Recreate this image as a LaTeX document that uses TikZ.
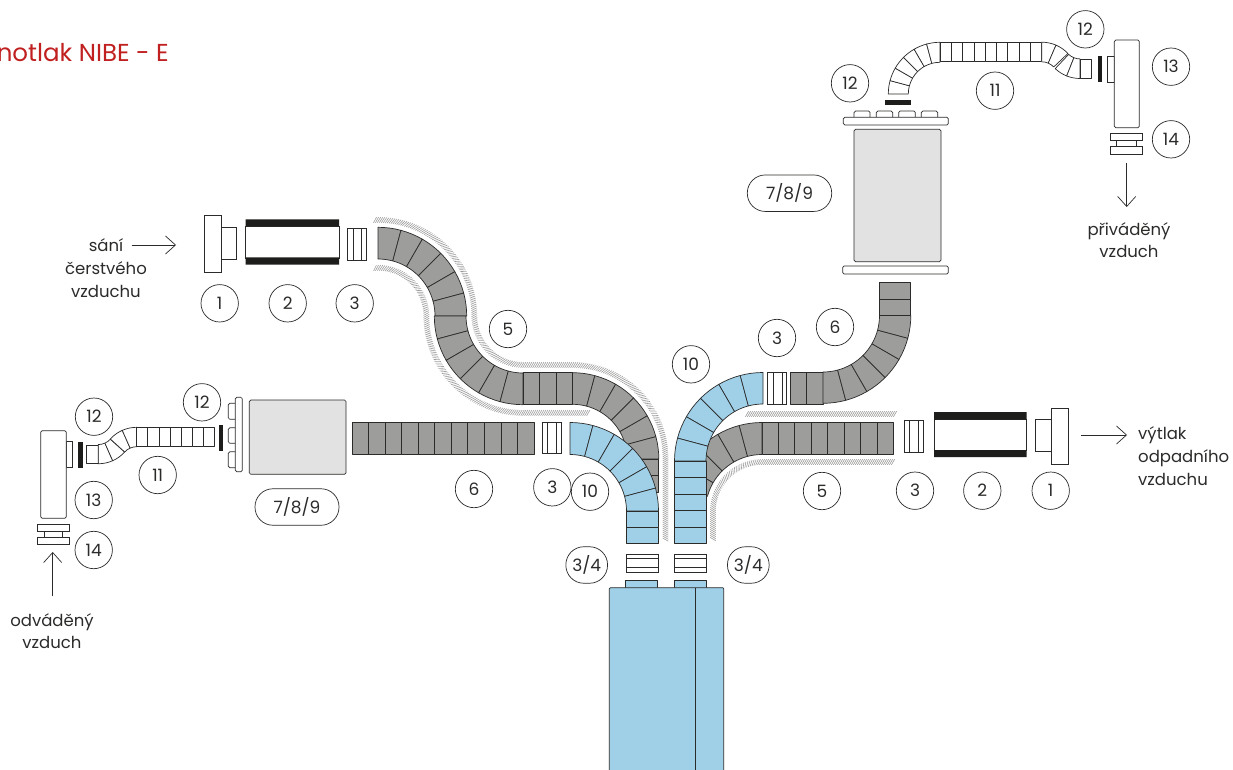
\documentclass[tikz,border=0pt]{standalone}
\usepackage{fontspec}
\setmainfont{Poppins}
\usetikzlibrary{arrows.meta,decorations.markings}
\definecolor{ink}{HTML}{2B2B2A}
\definecolor{dgray}{HTML}{9D9D9C}
\definecolor{dblue}{HTML}{9FD0E8}
\definecolor{lgray}{HTML}{E2E2E2}
\definecolor{nred}{HTML}{C0201F}
\definecolor{barblack}{HTML}{1D1D1B}
\tikzset{
  seggray/.style={draw=ink,line width=.7pt,fill=dgray,line join=round},
  segblue/.style={draw=ink,line width=.7pt,fill=dblue,line join=round},
  segflex/.style={draw=ink,line width=.7pt,fill=white,line join=round},
  part/.style={draw=ink,line width=.7pt,fill=white},
  softpart/.style={draw=ink,line width=.7pt,fill=white,rounded corners=1.5pt},
  graybox/.style={draw=ink,line width=.7pt,fill=lgray,rounded corners=1.5pt},
  blackbar/.style={fill=barblack},
  lab/.style={circle,draw=ink,line width=.7pt,fill=white,minimum size=37.4pt,inner sep=0pt,font=\fontsize{17}{20}\selectfont,text=ink},
  stad/.style={rectangle,rounded corners=18pt,draw=ink,line width=.7pt,fill=white,minimum height=36.5pt,inner sep=0pt,font=\fontsize{17}{20}\selectfont,text=ink},
  txt/.style={align=center,inner sep=0pt,text=ink,font=\fontsize{16.5}{22.7}\selectfont},
  arr/.style={draw=ink,line width=.7pt,-{Straight Barb[length=10pt,width=18pt,line width=.7pt]}},
  hatch/.style={decoration={markings,mark=between positions 0 and 1 step 2pt with {\draw[dgray,line width=.6pt] (-1.6pt,-2.8pt)--(1.6pt,2.8pt);}},decorate}
}
% annular duct bend: cx cy rin rout a0 a1 n style
\newcommand\ductarc[8]{%
  \foreach \ii in {1,...,#7}{%
    \pgfmathsetmacro\aa{#5+(#6-#5)*(\ii-1)/#7}%
    \pgfmathsetmacro\ab{#5+(#6-#5)*\ii/#7}%
    \draw[#8] ([shift={(#1,#2)}]\aa:#3) -- ([shift={(#1,#2)}]\aa:#4)
      arc[start angle=\aa,end angle=\ab,radius=#4]
      -- ([shift={(#1,#2)}]\ab:#3)
      arc[start angle=\ab,end angle=\aa,radius=#3] -- cycle;
  }}
% straight duct along x: x0 x1 ytop ybot n style
\newcommand\ductH[6]{%
  \foreach \ii in {1,...,#5}{%
    \pgfmathsetmacro\aa{#1+(#2-#1)*(\ii-1)/#5}%
    \pgfmathsetmacro\ab{#1+(#2-#1)*\ii/#5}%
    \draw[#6] (\aa,#3) rectangle (\ab,#4);
  }}
% straight duct along y: xl xr y0 y1 n style
\newcommand\ductV[6]{%
  \foreach \ii in {1,...,#5}{%
    \pgfmathsetmacro\aa{#3+(#4-#3)*(\ii-1)/#5}%
    \pgfmathsetmacro\ab{#3+(#4-#3)*\ii/#5}%
    \draw[#6] (#1,\aa) rectangle (#2,\ab);
  }}
% coupling (3): x0 x1 x2 x3 ytop ybot
\newcommand\couplingV[6]{%
  \draw[part] (#1,#5) rectangle (#4,#6);
  \draw[ink,line width=.7pt] (#2,#5)--(#2,#6) (#3,#5)--(#3,#6);}
\newcommand\couplingH[6]{%
  \draw[part] (#1,#5) rectangle (#2,#6);
  \draw[ink,line width=.7pt] (#1,#3)--(#2,#3) (#1,#4)--(#2,#4);}
\begin{document}
\begin{tikzpicture}[x=1pt,y=1pt]
\useasboundingbox (0,-770) rectangle (1233,0);
\fill[white] (0,-770) rectangle (1233,0);

% title (runs off the left edge)
\begin{scope}
\clip (0,-770) rectangle (1233,0);
\node[anchor=base east,inner sep=0pt,text=nred,font=\fontsize{24.5}{28}\selectfont] (title) at (169,-62) {notlak NIBE - E};
\end{scope}

% hatching around the duct 5 runs
\path[hatch] (375,-220) arc[start angle=92,end angle=0,radius=96]
  arc[start angle=180,end angle=270,radius=49] -- (572.5,-365)
  arc[start angle=90,end angle=0,radius=93] -- (665.5,-541);
\path[hatch] (375,-268) arc[start angle=94,end angle=0,radius=48]
  arc[start angle=180,end angle=270,radius=97] -- (590,-413);
\path[hatch] (747,-414) -- (895,-414);
\path[hatch] (893,-462) -- (762,-462) arc[start angle=90,end angle=180,radius=49] -- (713,-541);

% left-hand upper duct 5
\ductarc{378}{-316}{57}{88.7}{90}{0}{6}{seggray}
\ductarc{523}{-316}{57}{88.7}{180}{270}{6}{seggray}
\ductH{523}{572.5}{-372.7}{-404.3}{3}{seggray}
\ductarc{572.5}{-459}{54.7}{86.3}{90}{0}{6}{seggray}
\ductV{628.2}{658.8}{-459}{-492}{2}{seggray}
% right-hand duct 5
\ductH{762}{893.3}{-422.5}{-454}{8}{seggray}
\ductarc{762}{-511}{56.5}{88.5}{90}{165}{5}{seggray}
% left duct 6
\ductH{352}{534}{-422}{-454}{11}{seggray}
% right duct 6
\ductH{790.3}{823}{-372.3}{-404}{2}{seggray}
\ductarc{823}{-315.5}{56.5}{87.8}{270}{360}{6}{seggray}
\ductV{879.5}{910.8}{-315.5}{-282.3}{2}{seggray}
% blue bends
\ductarc{570}{-511}{56.5}{88.5}{90}{0}{6}{segblue}
\ductV{626.5}{658.5}{-511}{-543.7}{2}{segblue}
\ductarc{763}{-461}{57}{88.5}{90}{180}{6}{segblue}
\ductV{674.5}{706}{-461}{-543.7}{5}{segblue}

% couplings 3
\couplingV{347.3}{353}{361.7}{366.7}{-228}{-260.3}
\couplingV{542.3}{547.3}{556.7}{561.7}{-422}{-453.3}
\couplingV{767.7}{773}{782}{786.7}{-372.7}{-404.3}
\couplingV{904.3}{909}{918.3}{923.3}{-420.3}{-452.3}
% couplings 3/4
\couplingH{626.7}{658.7}{-558.3}{-567.7}{-554}{-572.3}
\couplingH{674.7}{706.7}{-558.3}{-567.7}{-554}{-572.3}

% unit at the bottom
\draw[segblue] (625.3,-580.3) rectangle (657.3,-588);
\draw[segblue] (674.7,-580.3) rectangle (706.7,-588);
\draw[segblue,rounded corners=1pt] (609.3,-775) -- (609.3,-587.7) -- (723.7,-587.7) -- (723.7,-775);
\draw[ink,line width=.7pt] (695,-587.7) -- (695,-775);

% silencers 2
\draw[part] (245.7,-226) rectangle (339,-258);
\fill[blackbar] (245.7,-219.3) rectangle (339,-226.3) (245.7,-257.3) rectangle (339,-264.7);
\draw[part] (934,-419.5) rectangle (1026.7,-450);
\fill[blackbar] (934,-412) rectangle (1026.7,-419.7) (934,-450) rectangle (1026.7,-457);

% wall terminals 1
\draw[part] (221.3,-227.3) rectangle (236.7,-259);
\draw[part] (204.3,-215.7) rectangle (221.3,-272);
\draw[part] (1035.7,-419.3) rectangle (1051.3,-451.7);
\draw[part] (1051.3,-408.3) rectangle (1068.3,-464.7);

% upper right unit 7/8/9
\foreach \xa/\xb in {854/870,876.3/892.7,898.7/915.3,921.3/937.7}{
  \draw[softpart] (\xa,-117.3) -- (\xa,-111) -- (\xb,-111) -- (\xb,-117.3);}
\draw[softpart] (843.3,-117.3) rectangle (948.3,-125);
\draw[graybox] (854,-129.3) rectangle (941,-261.7);
\draw[softpart] (842.7,-266) rectangle (948.3,-274);
\fill[blackbar] (885,-100.3) rectangle (911,-105);

% upper flex 11
\ductarc{940}{-94}{31.7}{51.7}{180}{90}{6}{segflex}
\ductH{940}{1041.7}{-42.3}{-61.7}{9}{segflex}
\ductarc{1041.7}{-78.3}{16.5}{36.1}{90}{43.4}{2}{segflex}
\ductarc{1080}{-42.4}{16.5}{36.1}{226.6}{270}{2}{segflex}
\ductH{1080}{1091.7}{-59}{-78.3}{1}{segflex}

% upper right valve 13/14
\fill[blackbar] (1097.7,-56) rectangle (1102.3,-82);
\draw[part] (1107.7,-56.7) rectangle (1114.3,-82);
\draw[softpart] (1114.3,-40) rectangle (1139.3,-127.7);
\draw[part] (1116.7,-140) rectangle (1136.7,-147);
\draw[part] (1110.7,-133) rectangle (1142.7,-140.7);
\draw[part] (1110.7,-146.7) rectangle (1142.7,-154);

% left unit 7/8/9
\foreach \ya/\yb in {403.3/419.3,427.7/443.3,451.7/467.7}{
  \draw[softpart] (235.3,-\ya) -- (228.3,-\ya) -- (228.3,-\yb) -- (235.3,-\yb);}
\draw[softpart] (235.3,-397.3) rectangle (242.3,-471.7);
\draw[graybox] (249.3,-400) rectangle (346,-474.3);
\fill[blackbar] (219,-425) rectangle (223.3,-450.7);

% left flex 11
\ductH{86.7}{98.3}{-445}{-463.3}{1}{segflex}
\ductarc{98.3}{-428.25}{16.3}{35.5}{270}{317.8}{2}{segflex}
\ductarc{136.7}{-462.9}{16.2}{35.6}{137.8}{90}{2}{segflex}
\ductH{136.7}{214.3}{-427.3}{-446.7}{7}{segflex}

% left valve 13/14
\fill[blackbar] (78.3,-441.7) rectangle (82.7,-467.7);
\draw[part] (66.3,-441.7) rectangle (72.7,-467.3);
\draw[softpart] (40.7,-430.7) rectangle (66.3,-518.3);
\draw[part] (44,-530) rectangle (62.7,-538);
\draw[part] (37.3,-524) rectangle (69.7,-531);
\draw[part] (37.3,-537.3) rectangle (69.7,-544.7);

% number labels
\node[lab] (n1a) at (219.7,-303.3) {1};
\node[lab] (n2a) at (287.7,-303.3) {2};
\node[lab] (n3a) at (354.7,-303.3) {3};
\node[lab] (n5a) at (508,-329) {5};
\node[lab] (n6a) at (474,-489) {6};
\node[lab] (n3b) at (552.3,-487.3) {3};
\node[lab] (n10a) at (590,-491.7) {10};
\node[lab] (n10b) at (691,-364.3) {10};
\node[lab] (n3c) at (777,-338) {3};
\node[lab] (n6b) at (835,-327) {6};
\node[lab] (n5b) at (822,-491) {5};
\node[lab] (n3d) at (915,-490.7) {3};
\node[lab] (n2b) at (982.3,-490.7) {2};
\node[lab] (n1b) at (1050.7,-490.7) {1};
\node[lab] (n12a) at (850,-83.3) {12};
\node[lab] (n12b) at (1085.3,-29.3) {12};
\node[lab] (n13a) at (1171,-66.7) {13};
\node[lab] (n14a) at (1171,-139.3) {14};
\node[lab] (n11a) at (995,-90.7) {11};
\node[lab] (n12c) at (94,-416.7) {12};
\node[lab] (n12d) at (202,-402.3) {12};
\node[lab] (n13b) at (93.7,-500) {13};
\node[lab] (n14b) at (93.7,-550) {14};
\node[lab] (n11b) at (157.7,-475) {11};
\node[stad,minimum width=41.7pt] (s34a) at (586.7,-565) {3/4};
\node[stad,minimum width=41.7pt] (s34b) at (748.3,-565) {3/4};
\node[stad,minimum width=84.4pt] (s789a) at (789.5,-193.2) {7/8/9};
\node[stad,minimum width=84pt] (s789b) at (297,-507) {7/8/9};

% air labels
\node[txt] (tsani) at (106,-268) {sání\\čerstvého\\vzduchu};
\node[txt,align=left] (tvytlak) at (1138,-456) [anchor=west] {výtlak\\odpadního\\vzduchu};
\node[txt] (tpriv) at (1129,-240) {přiváděný\\vzduch};
\node[txt] (todv) at (52,-631) {odváděný\\vzduch};

% air arrows
\coordinate (a1s) at (131.7,-245); \coordinate (a1e) at (176,-245);
\coordinate (a2s) at (1081,-435); \coordinate (a2e) at (1127,-435);
\coordinate (a3s) at (1126.7,-163); \coordinate (a3e) at (1126.7,-207);
\coordinate (a4s) at (52.7,-596); \coordinate (a4e) at (52.7,-552);
\draw[arr] (a1s) -- (a1e);
\draw[arr] (a2s) -- (a2e);
\draw[arr] (a3s) -- (a3e);
\draw[arr] (a4s) -- (a4e);
\end{tikzpicture}
\end{document}
